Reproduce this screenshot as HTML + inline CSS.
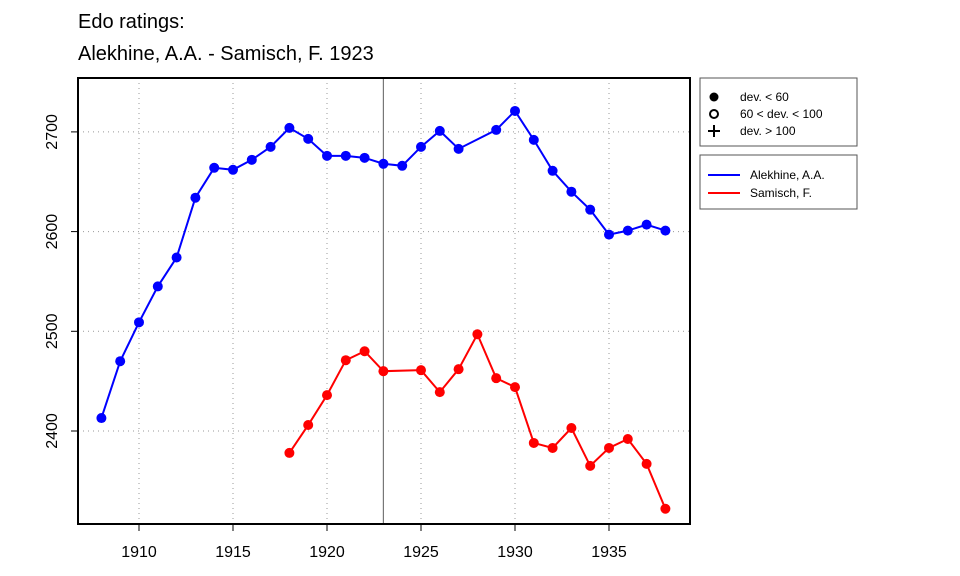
<!DOCTYPE html>
<html><head><meta charset="utf-8"><style>
body{margin:0;background:#fff;}
svg{display:block;font-family:"Liberation Sans",Arial,sans-serif;}
</style></head><body>
<svg id="chart" width="960" height="576" viewBox="0 0 960 576">
<text x="78" y="28" font-size="20">Edo ratings:</text>
<text x="78" y="60" font-size="20">Alekhine, A.A. - Samisch, F. 1923</text>
<g id="grid"></g>
<g id="xaxis"></g>
<g id="yaxis"></g>
<g id="series"></g>
<rect x="78" y="78" width="612" height="446" fill="none" stroke="#000" stroke-width="2"/>
<g>
<rect x="700" y="78" width="157" height="68" fill="#fff" stroke="#555"/>
<circle cx="714" cy="97" r="4.5" fill="#000"/>
<text x="740" y="101" font-size="12">dev. &lt; 60</text>
<circle cx="714" cy="114" r="4" fill="none" stroke="#000" stroke-width="2"/>
<text x="740" y="118" font-size="12">60 &lt; dev. &lt; 100</text>
<path d="M708 131h12M714 125v12" stroke="#000" stroke-width="2"/>
<text x="740" y="135" font-size="12">dev. &gt; 100</text>
</g>
<g>
<rect x="700" y="155" width="157" height="54" fill="#fff" stroke="#555"/>
<line x1="708" y1="175" x2="740" y2="175" stroke="#00f" stroke-width="2"/>
<text x="750" y="179" font-size="12">Alekhine, A.A.</text>
<line x1="708" y1="193" x2="740" y2="193" stroke="#f00" stroke-width="2"/>
<text x="750" y="197" font-size="12">Samisch, F.</text>
</g>
</svg>
<script>
const blueYears=[1908,1909,1910,1911,1912,1913,1914,1915,1916,1917,1918,1919,1920,1921,1922,1923,1924,1925,1926,1927,1929,1930,1931,1932,1933,1934,1935,1936,1937,1938];
const blueVals=[2413,2470,2509,2545,2574,2634,2664,2662,2672,2685,2704,2693,2676,2676,2674,2668,2666,2685,2701,2683,2702,2721,2692,2661,2640,2622,2597,2601,2607,2601];
const redYears=[1918,1919,1920,1921,1922,1923,1925,1926,1927,1928,1929,1930,1931,1932,1933,1934,1935,1936,1937,1938];
const redVals=[2378,2406,2436,2471,2480,2460,2461,2439,2462,2497,2453,2444,2388,2383,2403,2365,2383,2392,2367,2322];
const xTicks=[1910,1915,1920,1925,1930,1935];
const yTicks=[2400,2500,2600,2700];
const markYear=1923;
const NS="http://www.w3.org/2000/svg";
function xs(v){return 139+(v-1910)*18.8;}
function ys(v){return 431-(v-2400)*0.997;}
function mk(tag,attrs,parent){const e=document.createElementNS(NS,tag);for(const k in attrs)e.setAttribute(k,attrs[k]);parent.appendChild(e);return e;}
const grid=document.getElementById('grid'),xa=document.getElementById('xaxis'),ya=document.getElementById('yaxis'),se=document.getElementById('series');
xTicks.forEach(t=>{
 const l=mk('line',{x1:xs(t),x2:xs(t),y1:78,y2:524,stroke:'#999','stroke-dasharray':'1,4'},grid);
 
 
 const tk=mk('line',{x1:xs(t),x2:xs(t),y1:524,y2:531,stroke:'#000'},xa);
 
 
 const tx=mk('text',{x:xs(t),y:557,'font-size':16,'text-anchor':'middle'},xa);tx.textContent=t;
 
 
});
yTicks.forEach(t=>{
 const l=mk('line',{x1:78,x2:690,y1:ys(t),y2:ys(t),stroke:'#999','stroke-dasharray':'1,4'},grid);
 
 
 const tk=mk('line',{x1:71,x2:78,y1:ys(t),y2:ys(t),stroke:'#000'},ya);
 
 
 const tx=mk('text',{x:0,y:0,'font-size':16,'text-anchor':'middle',transform:`translate(57,${ys(t)}) rotate(-90)`},ya);tx.textContent=t;
 
 
});
const vl=mk('line',{x1:xs(markYear),x2:xs(markYear),y1:78,y2:524,stroke:'#777','stroke-width':1.2},grid);


function drawSeries(years,vals,color,name){
 const p=mk('polyline',{points:years.map((y,i)=>xs(y)+','+ys(vals[i])).join(' '),fill:'none',stroke:color,'stroke-width':2},se);
 
 
 years.forEach((y,i)=>{
  const c=mk('circle',{cx:xs(y),cy:ys(vals[i]),r:5,fill:color},se);
  
  
 });
}
drawSeries(blueYears,blueVals,'#00f','alekhine');
drawSeries(redYears,redVals,'#f00','samisch');
</script>
</body></html>
